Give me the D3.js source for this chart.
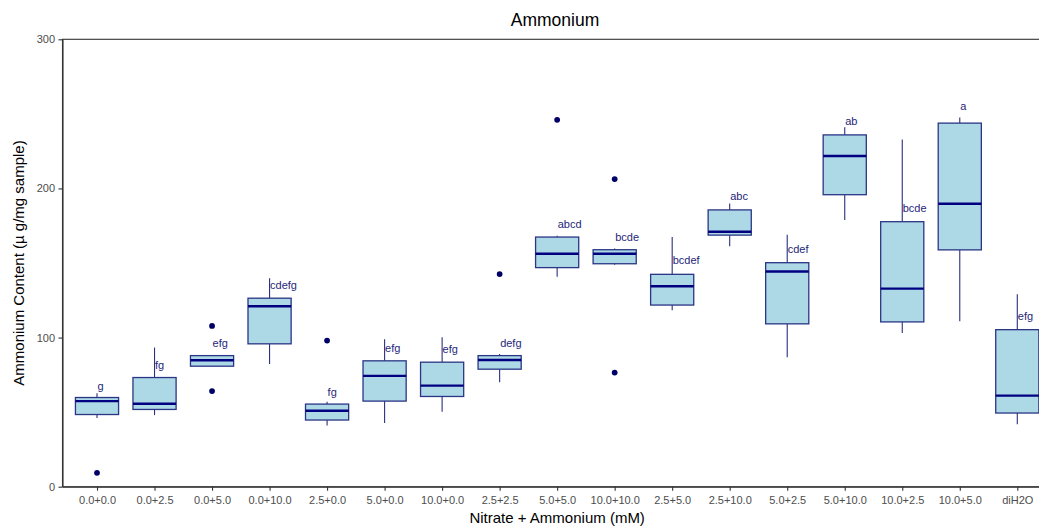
<!DOCTYPE html>
<html>
<head>
<meta charset="utf-8">
<script src="https://cdn.jsdelivr.net/npm/d3@7"></script>
<style>
  body { margin: 0; background: #fff; }
  text { font-family: Arial, "Liberation Sans", sans-serif; }
</style>
</head>
<body>
<div class="chart"></div>
<script>
// treatment groups
var categories = ["0.0+0.0", "0.0+2.5", "0.0+5.0", "0.0+10.0", "2.5+0.0", "5.0+0.0", "10.0+0.0", "2.5+2.5",
  "5.0+5.0", "10.0+10.0", "2.5+5.0", "2.5+10.0", "5.0+2.5", "5.0+10.0", "10.0+2.5", "10.0+5.0", "diH2O"];
var whiskerLow  = [46.0, 48.0, 80.8, 82.2, 41.1, 42.7, 50.2, 70.1, 140.8, 148.9, 118.3, 161.3, 86.8, 178.8, 103.1, 111.0, 41.9];
var lowerQ      = [48.4, 51.8, 80.8, 95.8, 44.7, 57.4, 60.5, 78.8, 146.9, 149.5, 121.8, 168.7, 109.2, 195.8, 110.5, 158.8, 49.4];
var medians     = [57.4, 55.6, 84.8, 121.0, 50.9, 74.3, 67.8, 85.0, 156.2, 156.2, 134.4, 171.0, 144.3, 221.7, 132.8, 189.7, 61.1];
var upperQ      = [59.8, 73.2, 87.9, 126.4, 55.4, 84.4, 83.5, 87.9, 167.4, 158.9, 142.4, 185.6, 150.2, 235.9, 177.7, 243.8, 105.3];
var whiskerHigh = [62.7, 93.3, 87.9, 139.8, 56.9, 98.9, 100.2, 88.9, 168.3, 159.8, 167.4, 189.9, 168.9, 241.1, 232.8, 247.6, 129.0];
var outliers    = [[9.3], [], [107.8, 64.1], [], [98.0], [], [], [142.6], [246.0], [206.3, 76.5], [], [], [], [], [], [], []];
var letters     = ["g", "fg", "efg", "cdefg", "fg", "efg", "efg", "defg", "abcd", "bcde", "bcdef", "abc", "cdef", "ab", "bcde", "a", "efg"];
var letterY     = [67.2, 81.0, 96.2, 134.6, 63.4, 92.6, 92.2, 96.2, 175.9, 167.4, 152.0, 194.4, 159.0, 244.7, 186.5, 255.1, 114.1];
var yTicks      = [0, 100, 200, 300];

var width = 1039, height = 527;
var panelLeft = 62.5, panelRight = 1051.8, panelTop = 39.3, panelBottom = 486.7;

var svg = d3.select('.chart').append('svg').attr('width', width).attr('height', height);

var x = d3.scalePoint().domain(categories).range([panelLeft, panelRight]).padding(0.6);
var y = d3.scaleLinear().domain([0, 300]).range([panelBottom, panelTop]);
var boxW = x.step() * 0.75;

var rows = categories.map(function(c, i) {
  return { cat: c, lo: whiskerLow[i], q1: lowerQ[i], med: medians[i], q3: upperQ[i], hi: whiskerHigh[i],
           out: outliers[i], lab: letters[i], labY: letterY[i] };
});

// panel border
svg.append('rect')
  .attr('x', panelLeft).attr('y', panelTop)
  .attr('width', panelRight - panelLeft).attr('height', panelBottom - panelTop)
  .attr('fill', 'none').attr('stroke', '#333').attr('stroke-width', 1.1);

var g = svg.selectAll('g.box').data(rows).enter().append('g').attr('class', 'box');

g.append('line')
  .attr('x1', function(d) { return x(d.cat); }).attr('x2', function(d) { return x(d.cat); })
  .attr('y1', function(d) { return y(d.hi); }).attr('y2', function(d) { return y(d.q3); })
  .attr('stroke', '#29307f').attr('stroke-width', 1.1);
g.append('line')
  .attr('x1', function(d) { return x(d.cat); }).attr('x2', function(d) { return x(d.cat); })
  .attr('y1', function(d) { return y(d.q1); }).attr('y2', function(d) { return y(d.lo); })
  .attr('stroke', '#29307f').attr('stroke-width', 1.1);
g.append('rect')
  .attr('x', function(d) { return x(d.cat) - boxW / 2; })
  .attr('y', function(d) { return y(d.q3); })
  .attr('width', boxW)
  .attr('height', function(d) { return y(d.q1) - y(d.q3); })
  .attr('fill', '#add8e6').attr('stroke', '#2a3585').attr('stroke-width', 1.3);
g.append('line')
  .attr('x1', function(d) { return x(d.cat) - boxW / 2; }).attr('x2', function(d) { return x(d.cat) + boxW / 2; })
  .attr('y1', function(d) { return y(d.med); }).attr('y2', function(d) { return y(d.med); })
  .attr('stroke', '#000080').attr('stroke-width', 2.4);

g.selectAll('circle').data(function(d) { return d.out.map(function(v) { return { cat: d.cat, v: v }; }); })
  .enter().append('circle')
  .attr('cx', function(d) { return x(d.cat); })
  .attr('cy', function(d) { return y(d.v); })
  .attr('r', 2.9).attr('fill', '#000066');

g.append('text')
  .attr('x', function(d) { return x(d.cat) + 0.5; })
  .attr('y', function(d) { return y(d.labY); })
  .attr('dy', '0.32em')
  .attr('font-size', 11).attr('fill', '#26267a')
  .text(function(d) { return d.lab; });

// axes
var xAxis = svg.append('g').attr('transform', 'translate(0,' + panelBottom + ')')
  .call(d3.axisBottom(x).tickSize(4).tickSizeOuter(0));
var yAxis = svg.append('g').attr('transform', 'translate(' + panelLeft + ',0)')
  .call(d3.axisLeft(y).tickValues(yTicks).tickSize(4).tickSizeOuter(0));
[xAxis, yAxis].forEach(function(a) {
  a.select('.domain').attr('stroke', '#333').attr('stroke-width', 1.1);
  a.selectAll('.tick line').attr('stroke', '#333').attr('stroke-width', 1.1);
  a.selectAll('.tick text').attr('fill', '#4d4d4d').attr('font-size', 11)
    .attr('font-family', 'Arial, "Liberation Sans", sans-serif');
});
xAxis.selectAll('.tick text').attr('dy', '0.71em').attr('y', 9.5);
yAxis.selectAll('.tick text').attr('x', -7.5);

svg.append('text').attr('x', 555).attr('y', 26)
  .attr('text-anchor', 'middle').attr('font-size', 17.5).attr('fill', '#000').text('Ammonium');
svg.append('text').attr('x', (panelLeft + panelRight) / 2).attr('y', 522.5)
  .attr('text-anchor', 'middle').attr('font-size', 15).attr('fill', '#000').text('Nitrate + Ammonium (mM)');
svg.append('text').attr('transform', 'translate(24,' + (panelTop + panelBottom) / 2 + ') rotate(-90)')
  .attr('text-anchor', 'middle').attr('font-size', 15).attr('fill', '#000').text('Ammonium Content (\u00b5 g/mg sample)');
</script>
</body>
</html>
